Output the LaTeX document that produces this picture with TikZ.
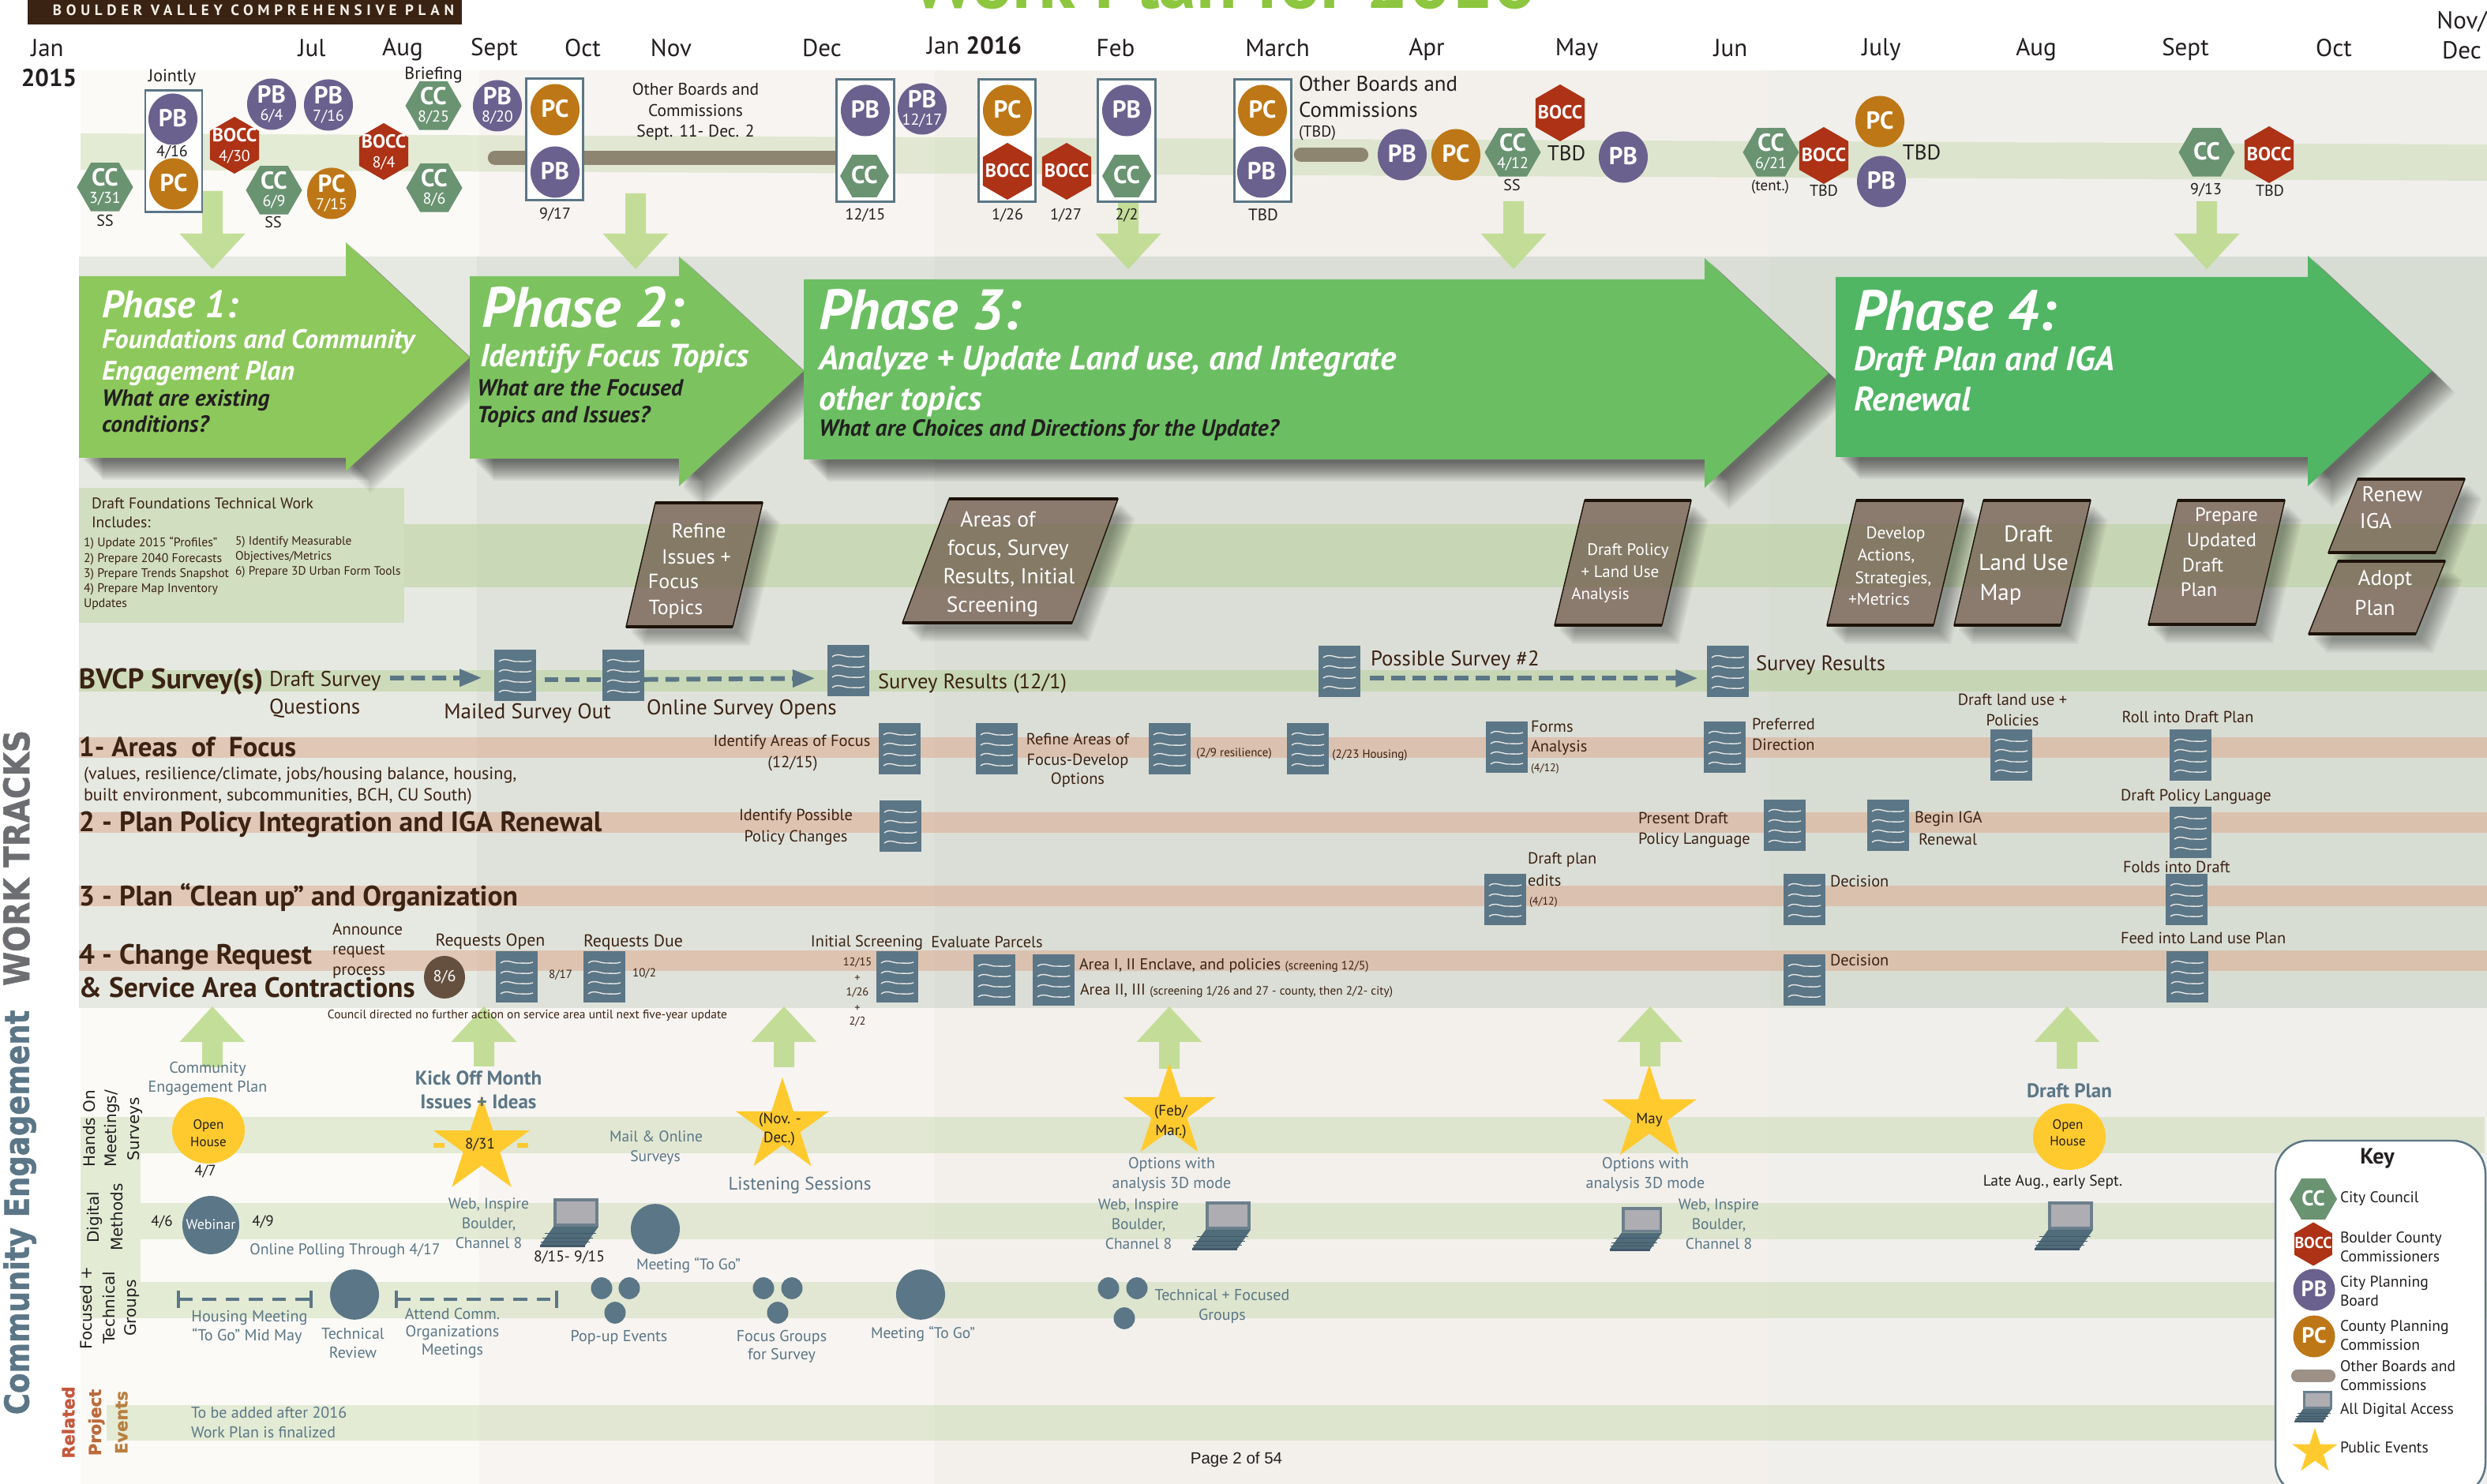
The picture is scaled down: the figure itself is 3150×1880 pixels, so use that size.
\documentclass[tikz,border=0pt]{standalone}
\usepackage{fontspec}
\usetikzlibrary{shapes.geometric,arrows.meta}
\setmainfont{PT Sans}
\newfontfamily\vfont{DejaVu Sans}
\newfontfamily\vbfont[FakeBold=1.3]{DejaVu Sans Bold}
\newfontfamily\lfont{Liberation Sans}
\newfontfamily\logofont[LetterSpace=30]{PT Sans}
\definecolor{cSlate}{HTML}{5B7686}
\definecolor{cBrn}{HTML}{3B2314}
\definecolor{cBlk}{HTML}{231F20}
\definecolor{cCC}{HTML}{6A9372}
\definecolor{cBO}{HTML}{AD3216}
\definecolor{cPB}{HTML}{6B618E}
\definecolor{cPC}{HTML}{BE7716}
\definecolor{cBar}{HTML}{8E8570}
\definecolor{cGr}{HTML}{B5CF93}
\definecolor{cSal}{HTML}{DD9F80}
\definecolor{cYel}{HTML}{FFCA2E}
\definecolor{cArr}{HTML}{BEDB8F}
\definecolor{pgf1}{HTML}{8B7A6E}
\definecolor{pgb}{HTML}{6E7A4A}
\definecolor{lapG}{HTML}{ADADB2}
\definecolor{lapB}{HTML}{506B79}
\definecolor{lapL}{HTML}{42586A}
\definecolor{lapF}{HTML}{6C7F8C}
\newcommand\fpx[1]{\fontsize{\fpeval{#1*0.28453}pt}{\fpeval{#1*0.34}pt}\selectfont}
\newcommand\lstrut{\rule[-.18em]{0pt}{.96em}}
\newcounter{tn}
\newcommand\txc[5][]{\stepcounter{tn}\node[tx,#1,font=\fpx{#4}] (t\thetn) at (#2,#3) {\lstrut #5};}
\newcommand\txl[5][]{\stepcounter{tn}\node[tx,anchor=west,#1,font=\fpx{#4}] (t\thetn) at (#2,#3) {\lstrut #5};}
\newcommand\softshadow[3]{\foreach \s in {0,2,...,24}{\fill[black,opacity=.05,shift={(#1+\s,#2+\s)}] #3;}}
\newcommand\softshadowb[3]{\foreach \s in {0,2,...,16}{\fill[black,opacity=.045,shift={(#1+\s,#2+\s)}] #3;}}
\newcommand\mkbadge[7]{%
  \node[#2] (#1) at (#3,#4) {};%
  \def\tmpd{#7}%
  \ifx\tmpd\empty
    \node[bdgt,font=\fpx{#6}] (#1-l) at (#1.center) {\lstrut\bfseries #5};%
  \else
    \node[bdgt,font=\fpx{#6}] (#1-l) at ([yshift=3.2pt]#1.center) {\lstrut\bfseries #5};%
    \node[bdgt,font=\fpx{20}] (#1-d) at ([yshift=-4.2pt]#1.center) {\lstrut #7};%
  \fi}
\newcommand\bPB[4]{\mkbadge{#1}{elpb}{#2}{#3}{PB}{31}{#4}}
\newcommand\bPC[4]{\mkbadge{#1}{elpc}{#2}{#3}{PC}{31}{#4}}
\newcommand\bCC[4]{\mkbadge{#1}{hexcc}{#2}{#3}{CC}{31}{#4}}
\newcommand\bCS[3]{\mkbadge{#1}{hexcs}{#2}{#3}{CC}{31}{}}
\newcommand\bBO[4]{\mkbadge{#1}{hexbo}{#2}{#3}{BOCC}{24}{#4}}
\newcommand\docic[3]{\begin{scope}[shift={(#2,#3)}]
  \node[docbox] (#1) at (0,0) {};
  \foreach \w in {15,28,41,54}{\draw[wave] (6,\w) .. controls (14,\w-6) and (22,\w+1) .. (30,\w) .. controls (36,\w) and (42,\w+1) .. (47,\w-1);}
  \end{scope}}
\newcommand\lap[3]{\begin{scope}[shift={(#1,#2)},scale=#3]
  \fill[lapa] (0,0) rectangle (57,36);
  \fill[lapb] (4,4) rectangle (53,32);
  \fill[lapc] (0,36)--(57,36)--(40,60)--(-17,60)--cycle;
  \draw[lapd] (-11,44)--(54,44) (-14,50)--(50,50) (-16,55)--(46,55);
  \fill[lape] (-17,59)--(40,59)--(40,62)--(-17,62)--cycle;
  \end{scope}}
\newcommand\pgm[6]{%
  \softshadowb{6}{8}{(#1,#5)--(#2,#5)--(#3,#6)--(#4,#6)--cycle}
  \fill[pgfill] (#1,#5)--(#2,#5)--(#3,#6)--(#4,#6)--cycle;
  \begin{scope}
    \clip (#1,#5)--(#2,#5)--(#3,#6)--(#4,#6)--cycle;
    \fill[pgband] (0,664) rectangle (3150,744);
  \end{scope}
  \draw[pgline] (#1,#5)--(#2,#5)--(#3,#6)--(#4,#6)--cycle;
  \draw[pgtop] (#1,#5)--(#2,#5) (#4,#6)--(#3,#6);}
\newcommand\dnarr[2]{\fill[garr] ({#1-13},#2)--({#1+13},#2)--({#1+13},296)--({#1+41.5},296)--(#1,341)--({#1-41.5},296)--({#1-13},296)--cycle;}
\newcommand\uparr[3]{\fill[garr] ({#1-13},#2)--({#1+13},#2)--({#1+13},{#3+45})--({#1+41.5},{#3+45})--(#1,#3)--({#1-41.5},{#3+45})--({#1-13},{#3+45})--cycle;}
\newcommand\ystar[4]{\node[ystarsh,minimum size=\fpeval{#4*2*0.01}cm] (#1) at (#2,#3) {};}
\newcommand\bdot[4]{\node[dotel,minimum width=\fpeval{#4*2*0.01}cm,minimum height=\fpeval{#4*2.05*0.01}cm] (#1) at (#2,#3) {};}
\tikzset{
  tx/.style={inner sep=0pt,outer sep=0pt,align=center,text=cBrn},
  blk/.style={text=cBlk},
  wht/.style={text=white},
  blu/.style={text=cSlate},
  bdgt/.style={inner sep=0pt,outer sep=0pt,text=white},
  elpb/.style={ellipse,fill=cPB,inner sep=0pt,outer sep=0pt,minimum width=.62cm,minimum height=.65cm},
  elpc/.style={ellipse,fill=cPC,inner sep=0pt,outer sep=0pt,minimum width=.62cm,minimum height=.65cm},
  hexcc/.style={regular polygon,regular polygon sides=6,fill=cCC,inner sep=0pt,outer sep=0pt,minimum size=.71cm},
  hexcs/.style={regular polygon,regular polygon sides=6,fill=cCC,inner sep=0pt,outer sep=0pt,minimum size=.62cm},
  hexbo/.style={regular polygon,regular polygon sides=6,shape border rotate=30,fill=cBO,inner sep=0pt,outer sep=0pt,minimum size=.72cm},
  docbox/.style={rectangle,fill=cSlate,anchor=north west,inner sep=0pt,outer sep=0pt,minimum width=.53cm,minimum height=.65cm},
  wave/.style={draw=white!90!black,line width=.4pt},
  lapa/.style={fill=lapF},
  lapb/.style={fill=lapG},
  lapc/.style={fill=lapB},
  lapd/.style={draw=lapL,line width=.2pt},
  lape/.style={fill=lapL},
  pgfill/.style={fill=pgf1},
  pgband/.style={fill=pgb,opacity=.22},
  pgline/.style={draw=black!85!brown,line width=.4pt},
  pgtop/.style={draw=black!85!brown,line width=.9pt},
  garr/.style={fill=cArr,opacity=.9},
  bbox/.style={draw=cSlate,line width=.85pt,fill=white},
  ystarsh/.style={star,star points=5,star point ratio=2.618,fill=cYel,inner sep=0pt,outer sep=0pt},
  dotel/.style={ellipse,fill=cSlate,inner sep=0pt,outer sep=0pt},
  dashflow/.style={draw=cSlate,line width=1.7pt,dash pattern=on 5pt off 2.6pt},
  dashhead/.style={dashflow,-{Triangle[length=8pt,width=6pt]}},
  dashbar/.style={draw=cSlate,line width=1pt,dash pattern=on 5pt off 3.4pt,{Bar[width=6.5pt,line width=1pt]}-{Bar[width=6.5pt,line width=1pt]}}
}
\begin{document}
\begin{tikzpicture}[x=0.01cm,y=-0.01cm]
\useasboundingbox (0,0) rectangle (3150,1880);
\clip (0,0) rectangle (3150,1880);
\fill[white] (0,0) rectangle (3150,1880);
% panels
\definecolor{p1}{HTML}{FBFAF6}\definecolor{p2}{HTML}{F7F4F1}\definecolor{p3}{HTML}{F3F0EC}\definecolor{p4}{HTML}{F0EFEC}
\definecolor{m1}{HTML}{E6E9E2}\definecolor{m2}{HTML}{DFE2DB}\definecolor{m3}{HTML}{DBDED6}\definecolor{m4}{HTML}{D8DDD4}
\fill[p1] (102,89) rectangle (607,1880);
\fill[p2] (607,89) rectangle (1184,1880);
\fill[p3] (1184,89) rectangle (2240,1880);
\fill[p4] (2240,89) rectangle (3150,1880);
\fill[m1] (100,325) rectangle (604,1277);
\fill[m2] (604,325) rectangle (1184,1277);
\fill[m3] (1184,325) rectangle (2240,1277);
\fill[m4] (2240,325) rectangle (3150,1277);
% bands
\fill[cGr,opacity=.33] (102,169)--(3150,183)--(3150,229)--(102,215)--cycle;
\fill[cGr,opacity=.5] (512,664) rectangle (3150,744);
\fill[cGr,opacity=.5] (100,849) rectangle (3150,876);
\fill[cGr,opacity=.42] (100,618) rectangle (512,789);
\fill[cSal,opacity=.45] (100,934) rectangle (3150,960);
\fill[cSal,opacity=.45] (100,1029) rectangle (3150,1055);
\fill[cSal,opacity=.45] (100,1122) rectangle (3150,1148);
\fill[cSal,opacity=.45] (100,1204) rectangle (3150,1230);
\fill[cGr,opacity=.33] (102,1415) rectangle (178,1670);
\fill[cGr,opacity=.33] (178,1415) rectangle (3147,1461);
\fill[cGr,opacity=.33] (178,1524) rectangle (3150,1570);
\fill[cGr,opacity=.33] (178,1624) rectangle (3150,1670);
\fill[cGr,opacity=.33] (135,1780) rectangle (3150,1825);
% header
\fill[cBrn] (35,0) rectangle (585,31);
\txc[text=white!88!brown]{321}{14}{19}{\logofont\bfseries BOULDER VALLEY COMPREHENSIVE PLAN}
\definecolor{tgreen}{HTML}{8DC63F}
\stepcounter{tn}\node[inner sep=0pt,outer sep=0pt,anchor=base,text=tgreen,font=\fpx{95}\bfseries] (t\thetn) at (1550,11) {Work Plan for 2016};
\foreach \mx/\mn in {60/Jan,395/Jul,510/Aug,626/Sept,738/Oct,850/Nov,1041/Dec,1413/Feb,1618/March,1807/Apr,1997/May,2192/Jun,2383/July,2579/Aug,2768/Sept,2956/Oct}{\txc[blk]{\mx}{62}{31}{\mn}}
\txc[blk]{1234}{59}{31}{Jan {\bfseries 2016}}
\txc[blk]{3118}{27}{31}{Nov/}
\txc[blk]{3118}{65}{31}{Dec}
\txc[blk]{62}{100}{31}{\bfseries 2015}
% brown bars
\draw[cBar,line width=5.2pt,line cap=round] (627,200)--(1065,200);
\draw[cBar,line width=5.2pt,line cap=round] (1648,196)--(1724,196);
% down arrows
\dnarr{269}{242}\dnarr{805}{245}\dnarr{1429}{255}\dnarr{1917}{255}\dnarr{2795}{255}
% meeting boxes
\draw[bbox] (184,115) rectangle (256,269);
\draw[bbox] (666,100) rectangle (738,254);
\draw[bbox] (1059,101) rectangle (1132,256);
\draw[bbox] (1239,101) rectangle (1311,256);
\draw[bbox] (1390,101) rectangle (1463,256);
\draw[bbox] (1563,101) rectangle (1635,256);
% badges
\bCC{c331}{133}{237}{3/31}
\bPB{b416}{219}{151}{}
\bPC{p416}{220}{233}{}
\bBO{o430}{297}{184}{4/30}
\bPB{b64}{344}{132}{6/4}
\bPB{b716}{416}{133}{7/16}
\bCC{c69}{347}{241}{6/9}
\bPC{p715}{420}{245}{7/15}
\bBO{o84}{486}{192}{8/4}
\bCC{c825}{549}{134}{8/25}
\bCC{c86}{550}{238}{8/6}
\bPB{b820}{630}{134}{8/20}
\bPC{p917}{703}{139}{}
\bPB{b917}{703}{218}{}
\bPB{b1215}{1096}{140}{}
\bCS{c1215}{1095}{223}
\bPB{b1217}{1168}{138}{12/17}
\bPC{p126}{1276}{140}{}
\bBO{o126}{1276}{217}{}
\bBO{o127}{1351}{217}{}
\bPB{b22}{1427}{140}{}
\bCS{c22}{1427}{223}
\bPC{ptbd}{1599}{140}{}
\bPB{btbd}{1598}{218}{}
\bPB{ba1}{1776}{196}{}
\bPC{pa1}{1844}{196}{}
\bCC{c412}{1916}{193}{4/12}
\bBO{oa1}{1976}{143}{}
\bPB{ba2}{2056}{199}{}
\bCC{c621}{2243}{193}{6/21}
\bBO{oj1}{2310}{197}{}
\bPC{pj1}{2381}{154}{}
\bPB{bj1}{2383}{230}{}
\bCC{c913}{2795}{193}{}
\bBO{os1}{2874}{196}{}
% top texts
\txc[blk]{218}{97}{22}{Jointly}
\txc[blk]{218}{193}{20}{4/16}
\txc[blk]{133}{281}{20}{SS}
\txc[blk]{346}{283}{20}{SS}
\txc[blk]{549}{94}{22}{Briefing}
\txc[blk]{703}{272}{20}{9/17}
\txc[blk]{881}{114}{21.5}{Other Boards and}
\txc[blk]{881}{141}{21.5}{Commissions}
\txc[blk]{881}{167}{21.5}{Sept. 11- Dec. 2}
\txc[blk]{1096}{273}{20}{12/15}
\txc[blk]{1276}{273}{20}{1/26}
\txc[blk]{1350}{273}{20}{1/27}
\txc[blk]{1427}{273}{20}{2/2}
\txc[blk]{1600}{273}{21}{TBD}
\txl[blk]{1645}{107}{27}{Other Boards and}
\txl[blk]{1645}{140}{27}{Commissions}
\txl[blk]{1645}{168}{20}{(TBD)}
\txc[blk]{1915}{236}{20}{SS}
\txc[blk]{1984}{195}{27}{TBD}
\txc[blk]{2242}{236}{19}{(tent.)}
\txc[blk]{2310}{243}{20}{TBD}
\txc[blk]{2434}{194}{27}{TBD}
\txc[blk]{2794}{241}{20}{9/13}
\txc[blk]{2875}{243}{20}{TBD}
% phases
\definecolor{ph1}{HTML}{8DC85C}\definecolor{ph2}{HTML}{7CC360}\definecolor{ph3}{HTML}{6BBF62}\definecolor{ph4}{HTML}{50B663}
\softshadow{6}{4}{(100,350)--(438,350)--(438,307)--(595,453)--(438,597)--(438,580)--(100,580)--cycle}
\fill[ph1] (100,350)--(438,350)--(438,307)--(595,453)--(438,597)--(438,580)--(100,580)--cycle;
\softshadow{6}{4}{(595,350)--(860,350)--(860,325)--(1018,470)--(860,616)--(860,581)--(595,581)--cycle}
\fill[ph2] (595,350)--(860,350)--(860,325)--(1018,470)--(860,616)--(860,581)--(595,581)--cycle;
\softshadow{6}{4}{(1018,354)--(2159,354)--(2159,327)--(2316,473)--(2159,618)--(2159,582)--(1018,582)--cycle}
\fill[ph3] (1018,354)--(2159,354)--(2159,327)--(2316,473)--(2159,618)--(2159,582)--(1018,582)--cycle;
\softshadow{6}{4}{(2325,351)--(2923,351)--(2923,324)--(3080,470)--(2923,616)--(2923,579)--(2325,579)--cycle}
\fill[ph4] (2325,351)--(2923,351)--(2923,324)--(3080,470)--(2923,616)--(2923,579)--(2325,579)--cycle;
\newcommand\bi{\bfseries\itshape}
\txl[wht]{129}{388}{48.5}{\bi Phase 1:}
\txl[wht]{129}{432}{34}{\bi Foundations and Community}
\txl[wht]{129}{472}{34}{\bi Engagement Plan}
\txl[blk]{129}{506}{29.5}{\bi What are existing}
\txl[blk]{129}{539}{29.5}{\bi conditions?}
\txl[wht]{610}{393}{72}{\bi Phase 2:}
\txl[wht]{608}{453}{40.5}{\bi Identify Focus Topics}
\txl[blk]{604}{493}{29.5}{\bi What are the Focused}
\txl[blk]{604}{527}{29.5}{\bi Topics and Issues?}
\txl[wht]{1037}{396}{72}{\bi Phase 3:}
\txl[wht]{1037}{456}{43}{\bi Analyze + Update Land use, and Integrate}
\txl[wht]{1037}{507}{43}{\bi other topics}
\txl[blk]{1037}{544}{29.5}{\bi What are Choices and Directions for the Update?}
\txl[wht]{2348}{397}{72}{\bi Phase 4:}
\txl[wht]{2348}{457}{43}{\bi Draft Plan and IGA}
\txl[wht]{2348}{508}{43}{\bi Renewal}
% foundations text
\txl{116}{639}{19.6}{Draft Foundations Technical Work}
\txl{116}{663}{19.6}{Includes:}
\txl{106}{688}{15.8}{1) Update 2015 “Profiles”}
\txl{106}{708}{15.8}{2) Prepare 2040 Forecasts}
\txl{106}{727}{15.8}{3) Prepare Trends Snapshot}
\txl{106}{746}{15.8}{4) Prepare Map Inventory}
\txl{106}{765}{15.8}{Updates}
\txl{298}{686}{15.4}{5) Identify Measurable}
\txl{298}{705}{15.4}{Objectives/Metrics}
\txl{298}{724}{15.4}{6) Prepare 3D Urban Form Tools}
% parallelograms
\pgm{830}{966}{928}{793}{637}{794}
\pgm{1202}{1416}{1358}{1143}{632}{789}
\pgm{2007}{2142}{2105}{1969}{634}{792}
\pgm{2351}{2487}{2449}{2314}{634}{792}
\pgm{2512}{2648}{2610}{2475}{634}{792}
\pgm{2758}{2894}{2857}{2721}{634}{791}
\pgm{2986}{3122}{3085}{2949}{607}{700}
\pgm{2961}{3097}{3060}{2924}{711}{803}
\txc[wht]{885}{674}{26}{Refine}
\txc[wht]{882}{707}{26}{Issues +}
\txc[wht]{853}{738}{26}{Focus}
\txc[wht]{856}{771}{26}{Topics}
\txc[wht]{1264}{659}{27.5}{Areas of}
\txc[wht]{1277}{696}{27.5}{focus, Survey}
\txc[wht]{1278}{731}{27.5}{Results, Initial}
\txc[wht]{1257}{768}{27.5}{Screening}
\txc[wht]{2062}{697}{21}{Draft Policy}
\txc[wht]{2052}{725}{21}{+ Land Use}
\txc[wht]{2027}{753}{21}{Analysis}
\txc[wht]{2401}{676}{21.5}{Develop}
\txc[wht]{2389}{704}{21.5}{Actions,}
\txc[wht]{2398}{733}{21.5}{Strategies,}
\txc[wht]{2380}{760}{21.5}{+Metrics}
\txc[wht]{2569}{678}{29}{Draft}
\txc[wht]{2563}{714}{29}{Land Use}
\txc[wht]{2534}{752}{29}{Map}
\txc[wht]{2820}{653}{24.5}{Prepare}
\txc[wht]{2814}{685}{24.5}{Updated}
\txc[wht]{2790}{717}{24.5}{Draft}
\txc[wht]{2785}{748}{24.5}{Plan}
\txc[wht]{3030}{627}{27}{Renew}
\txc[wht]{3009}{661}{27}{IGA}
\txc[wht]{3021}{734}{27}{Adopt}
\txc[wht]{3008}{771}{27}{Plan}
% document icons
\docic{d1}{626}{823}\docic{d2}{763}{823}\docic{d3}{1048}{817}\docic{d4}{1670}{818}\docic{d5}{2162}{818}
\docic{e1}{1113}{916}\docic{e2}{1236}{916}\docic{e3}{1455}{916}\docic{e4}{1630}{916}\docic{e5}{1882}{914}\docic{e6}{2158}{914}\docic{e7}{2521}{924}\docic{e8}{2748}{924}
\docic{f1}{1114}{1014}\docic{f2}{2234}{1013}\docic{f3}{2365}{1013}\docic{f4}{2748}{1022}
\docic{g1}{1880}{1107}\docic{g2}{2259}{1107}\docic{g3}{2743}{1107}
\docic{h1}{628}{1205}\docic{h2}{739}{1205}\docic{h3}{1110}{1205}\docic{h4}{1233}{1209}\docic{h5}{1308}{1209}\docic{h6}{2259}{1209}\docic{h7}{2744}{1205}
% survey arrows
\coordinate (sv0) at (494,859);
\draw[dashhead] (sv0) -- ([xshift=-4.5pt,yshift=-.9pt]d1.west);
\draw[dashflow] ([xshift=3pt,yshift=-1.5pt]d1.east) -- ([yshift=-1.5pt]d2.west);
\draw[dashhead] ([yshift=-1.5pt]d2.east) -- ([xshift=-4.5pt,yshift=-2.8pt]d3.west);
\draw[dashhead] ([xshift=3.5pt,yshift=-2.5pt]d4.east) -- ([xshift=-3.3pt,yshift=-2.5pt]d5.west);
% up arrows
\uparr{269}{1352}{1275}\uparr{613}{1351}{1275}\uparr{993}{1352}{1275}\uparr{1481}{1354}{1275}\uparr{2090}{1351}{1275}\uparr{2618}{1354}{1275}
% work track texts
\txl{100}{862}{36}{\bfseries BVCP Survey(s)}
\txl{341}{862}{27}{Draft Survey}
\txl{341}{896}{27}{Questions}
\txc{668}{903}{27}{Mailed Survey Out}
\txl{819}{898}{27}{Online Survey Opens}
\txl{1112}{865}{26.6}{Survey Results (12/1)}
\txl{1736}{836}{26.8}{Possible Survey \#2}
\txl{2224}{842}{26.6}{Survey Results}
\txl{100}{948}{35}{\bfseries 1- Areas\ \ of\ \ Focus}
\txl{106}{981}{22.1}{(values, resilience/climate, jobs/housing balance, housing,}
\txl{106}{1008}{22.1}{built environment, subcommunities, BCH, CU South)}
\txc{1003}{940}{20.4}{Identify Areas of Focus}
\txc{1004}{967}{20.4}{(12/15)}
\txc{1365}{937}{20.4}{Refine Areas of}
\txc{1365}{964}{20.4}{Focus-Develop}
\txc{1365}{988}{20.4}{Options}
\txc{1563}{954}{15}{(2/9 resilience)}
\txc{1735}{956}{15}{(2/23 Housing)}
\txl{1939}{921}{20.4}{Forms}
\txl{1939}{947}{20.4}{Analysis}
\txl{1939}{974}{14}{(4/12)}
\txl{2219}{918}{20.4}{Preferred}
\txl{2219}{944}{20.4}{Direction}
\txc{2549}{887}{20.4}{Draft land use +}
\txc{2549}{913}{20.4}{Policies}
\txc{2771}{909}{20.4}{Roll into Draft Plan}
\txl{100}{1043}{35.6}{\bfseries 2 - Plan Policy Integration and IGA Renewal}
\txc{1008}{1034}{20.4}{Identify Possible}
\txc{1008}{1061}{20.4}{Policy Changes}
\txl{2075}{1037}{20.4}{Present Draft}
\txl{2075}{1064}{20.4}{Policy Language}
\txl{2425}{1037}{20.4}{Begin IGA}
\txl{2430}{1064}{20.4}{Renewal}
\txl{2686}{1009}{20.4}{Draft Policy Language}
\txl{100}{1137}{35.6}{\bfseries 3 - Plan “Clean up” and Organization}
\txl{1935}{1089}{20.4}{Draft plan}
\txl{1935}{1116}{20.4}{edits}
\txl{1937}{1143}{14}{(4/12)}
\txl{2318}{1117}{20.4}{Decision}
\txl{2689}{1099}{20.4}{Folds into Draft}
\txl{100}{1211}{35.6}{\bfseries 4 - Change Request}
\txl{100}{1253}{35.6}{\bfseries \& Service Area Contractions}
\txl{421}{1178}{21}{Announce}
\txl{421}{1203}{21}{request}
\txl{421}{1229}{21}{process}
\definecolor{c86f}{HTML}{65503F}
\node[ellipse,fill=c86f,inner sep=0pt,outer sep=0pt,minimum width=.52cm,minimum height=.54cm] (cir86) at (563,1238) {};
\node[bdgt,font=\fpx{20}] (cir86t) at (cir86.center) {\lstrut 8/6};
\txc{621}{1192}{21.8}{Requests Open}
\txc{802}{1193}{21.8}{Requests Due}
\txc{710}{1235}{15}{8/17}
\txc{816}{1233}{15}{10/2}
\txc{668}{1286}{15.5}{Council directed no further action on service area until next five-year update}
\txc{1098}{1194}{20.3}{Initial Screening}
\txc{1250}{1194}{20.3}{Evaluate Parcels}
\txc{1086}{1219}{14.4}{12/15}
\txc{1086}{1239}{14.4}{+}
\txc{1086}{1257}{14.4}{1/26}
\txc{1086}{1277}{14.4}{+}
\txc{1086}{1294}{14.4}{2/2}
\txl{1367}{1223}{20}{Area I, II Enclave, and policies {\fpx{15.3}(screening 12/5)}}
\txl{1368}{1255}{20}{Area II, III {\fpx{15.3}(screening 1/26 and 27 - county, then 2/2- city)}}
\txl{2318}{1217}{20.4}{Decision}
\txl{2686}{1189}{20.4}{Feed into Land use Plan}
% side titles
\definecolor{cGry}{HTML}{6D6E71}
\definecolor{cRel}{HTML}{C4583C}\definecolor{cPrj}{HTML}{BC6A3A}\definecolor{cEvt}{HTML}{B97F3F}
\txc[rotate=90,text=cGry]{24}{1087}{39}{\vbfont\scalebox{1}[1.15]{WORK TRACKS}}
\txc[rotate=90,text=cSlate]{25}{1536}{37}{\vbfont\scalebox{1}[1.15]{Community Engagement}}
\txc[rotate=90,blk]{114}{1430}{20}{\vfont Hands On}
\txc[rotate=90,blk]{142}{1430}{20}{\vfont Meetings/}
\txc[rotate=90,blk]{171}{1430}{20}{\vfont Surveys}
\txc[rotate=90,blk]{120}{1542}{20}{\vfont Digital}
\txc[rotate=90,blk]{149}{1542}{20}{\vfont Methods}
\txc[rotate=90,blk]{110}{1657}{20}{\vfont Focused +}
\txc[rotate=90,blk]{139}{1657}{20}{\vfont Technical}
\txc[rotate=90,blk]{167}{1657}{20}{\vfont Groups}
\txc[rotate=90,text=cRel]{88}{1802}{21}{\vbfont Related}
\txc[rotate=90,text=cPrj]{122}{1802}{21}{\vbfont Project}
\txc[rotate=90,text=cEvt]{155}{1802}{21}{\vbfont Events}
% engagement
\txc[blu]{263}{1354}{20}{Community}
\txc[blu]{263}{1378}{20}{Engagement Plan}
\node[ellipse,fill=cYel,inner sep=0pt,outer sep=0pt,minimum width=.92cm,minimum height=.84cm] (oh1) at (264,1432) {};
\txc[blk]{264}{1426}{17}{Open}
\txc[blk]{264}{1447}{17}{House}
\txc[blk]{260}{1484}{19}{4/7}
\fill[cYel] (549,1448) rectangle (563,1454);
\fill[cYel] (655,1448) rectangle (669,1454);
\ystar{st1}{610}{1452}{64}
\txc[blu]{606}{1367}{25}{\bfseries Kick Off Month}
\txc[blu]{606}{1397}{25}{\bfseries Issues + Ideas}
\txc[blk]{608}{1450}{19}{8/31}
\txc[blu]{831}{1441}{19.5}{Mail \& Online}
\txc[blu]{830}{1466}{19.5}{Surveys}
\ystar{st2}{991}{1427}{62}
\txc[blk]{988}{1418}{19}{(Nov. -}
\txc[blk]{987}{1442}{19}{Dec.)}
\txc[blu]{1013}{1501}{23}{Listening Sessions}
\ystar{st3}{1481}{1409}{62}
\txc[blk]{1483}{1408}{19}{(Feb/}
\txc[blk]{1483}{1433}{19}{Mar.)}
\ystar{st4}{2089}{1412}{63}
\txc[blk]{2089}{1418}{19}{May}
\txc[blu]{1484}{1475}{20}{Options with}
\txc[blu]{1484}{1500}{20}{analysis 3D mode}
\txc[blu]{2084}{1475}{20}{Options with}
\txc[blu]{2084}{1500}{20}{analysis 3D mode}
\bdot{web}{267}{1552}{36}
\node[bdgt,font=\fpx{18}] (webt) at (web.center) {\lstrut Webinar};
\txc[blk]{205}{1548}{19}{4/6}
\txc[blk]{333}{1548}{19}{4/9}
\txc[blu]{437}{1584}{19.7}{Online Polling Through 4/17}
\txc[blu]{619}{1526}{19.5}{Web, Inspire}
\txc[blu]{619}{1551}{19.5}{Boulder,}
\txc[blu]{619}{1576}{19.5}{Channel 8}
\lap{701}{1518}{1}
\txc[blk]{721}{1593}{19.5}{8/15- 9/15}
\bdot{mtg1}{830}{1557}{31}
\txc[blu]{872}{1603}{19.5}{Meeting “To Go”}
\coordinate (hb1) at (224,1646);\coordinate (hb2) at (396,1646);
\coordinate (hb3) at (500,1646);\coordinate (hb4) at (707,1646);
\draw[dashbar] (hb1) -- (hb2);
\draw[dashbar] (hb3) -- (hb4);
\txc[blu]{316}{1669}{20.2}{Housing Meeting}
\txc[blu]{313}{1693}{20.2}{“To Go” Mid May}
\bdot{rev}{449}{1640}{31}
\txc[blu]{447}{1690}{20}{Technical}
\txc[blu]{447}{1714}{20}{Review}
\txc[blu]{573}{1665}{20}{Attend Comm.}
\txc[blu]{573}{1688}{20}{Organizations}
\txc[blu]{573}{1711}{20}{Meetings}
\bdot{pp1}{762}{1632}{13.5}\bdot{pp2}{797}{1632}{13.5}\bdot{pp3}{779}{1663}{13.5}
\txc[blu]{784}{1694}{20}{Pop-up Events}
\bdot{fg1}{967}{1632}{13.5}\bdot{fg2}{1003}{1632}{13.5}\bdot{fg3}{985}{1663}{13.5}
\txc[blu]{990}{1694}{20}{Focus Groups}
\txc[blu]{990}{1717}{20}{for Survey}
\bdot{mtg2}{1166}{1640}{31}
\txc[blu]{1169}{1690}{19.5}{Meeting “To Go”}
\bdot{tf1}{1404}{1632}{13.5}\bdot{tf2}{1440}{1632}{13.5}\bdot{tf3}{1424}{1670}{13.5}
\txc[blu]{1548}{1642}{20}{Technical + Focused}
\txc[blu]{1548}{1667}{20}{Groups}
\txc[blu]{1442}{1527}{19.5}{Web, Inspire}
\txc[blu]{1442}{1552}{19.5}{Boulder,}
\txc[blu]{1442}{1577}{19.5}{Channel 8}
\lap{1527}{1522}{1}
\lap{2054}{1529}{.9}
\txc[blu]{2177}{1527}{19.5}{Web, Inspire}
\txc[blu]{2177}{1552}{19.5}{Boulder,}
\txc[blu]{2177}{1577}{19.5}{Channel 8}
\txc[blu]{2621}{1383}{25}{\bfseries Draft Plan}
\node[ellipse,fill=cYel,inner sep=0pt,outer sep=0pt,minimum width=.92cm,minimum height=.84cm] (oh2) at (2621,1440) {};
\txc[blk]{2619}{1426}{17}{Open}
\txc[blk]{2619}{1446}{17}{House}
\txc[blk]{2600}{1497}{19.5}{Late Aug., early Sept.}
\lap{2594}{1522}{1}
\txl[blu]{242}{1790}{20}{To be added after 2016}
\txl[blu]{242}{1815}{20}{Work Plan is finalized}
\txc[blk]{1566}{1849}{20.5}{\lfont Page 2 of 54}
% key
\draw[draw=cSlate,line width=.7pt,fill=white,rounded corners=.42cm] (2882,1445) rectangle (3148,1895);
\txc[blk]{3011}{1466}{28}{\bfseries Key}
\node[regular polygon,regular polygon sides=6,fill=cCC,inner sep=0pt,outer sep=0pt,minimum size=.6cm] (kcc) at (2930,1519) {};
\node[bdgt,font=\fpx{27}] (kcct) at (kcc.center) {\lstrut\bfseries CC};
\node[regular polygon,regular polygon sides=6,shape border rotate=30,fill=cBO,inner sep=0pt,outer sep=0pt,minimum size=.55cm] (kbo) at (2930,1576) {};
\node[bdgt,font=\fpx{20}] (kbot) at (kbo.center) {\lstrut\bfseries BOCC};
\node[ellipse,fill=cPB,inner sep=0pt,outer sep=0pt,minimum width=.53cm,minimum height=.53cm] (kpb) at (2931,1634) {};
\node[bdgt,font=\fpx{28}] (kpbt) at (kpb.center) {\lstrut\bfseries PB};
\node[ellipse,fill=cPC,inner sep=0pt,outer sep=0pt,minimum width=.53cm,minimum height=.53cm] (kpc) at (2931,1693) {};
\node[bdgt,font=\fpx{28}] (kpct) at (kpc.center) {\lstrut\bfseries PC};
\definecolor{kbar}{HTML}{9D9187}
\draw[kbar,line width=4.6pt,line cap=round] (2910,1743)--(2950,1743);
\lap{2917}{1762}{.64}
\ystar{kst}{2932}{1839}{30}
\txl[blk]{2964}{1518}{19.6}{City Council}
\txl[blk]{2964}{1569}{19.6}{Boulder County}
\txl[blk]{2964}{1593}{19.6}{Commissioners}
\txl[blk]{2964}{1625}{19.6}{City Planning}
\txl[blk]{2964}{1649}{19.6}{Board}
\txl[blk]{2964}{1681}{19.6}{County Planning}
\txl[blk]{2964}{1705}{19.6}{Commission}
\txl[blk]{2964}{1732}{19.6}{Other Boards and}
\txl[blk]{2964}{1756}{19.6}{Commissions}
\txl[blk]{2964}{1786}{19.6}{All Digital Access}
\txl[blk]{2964}{1835}{19.6}{Public Events}
\end{tikzpicture}
\end{document}
